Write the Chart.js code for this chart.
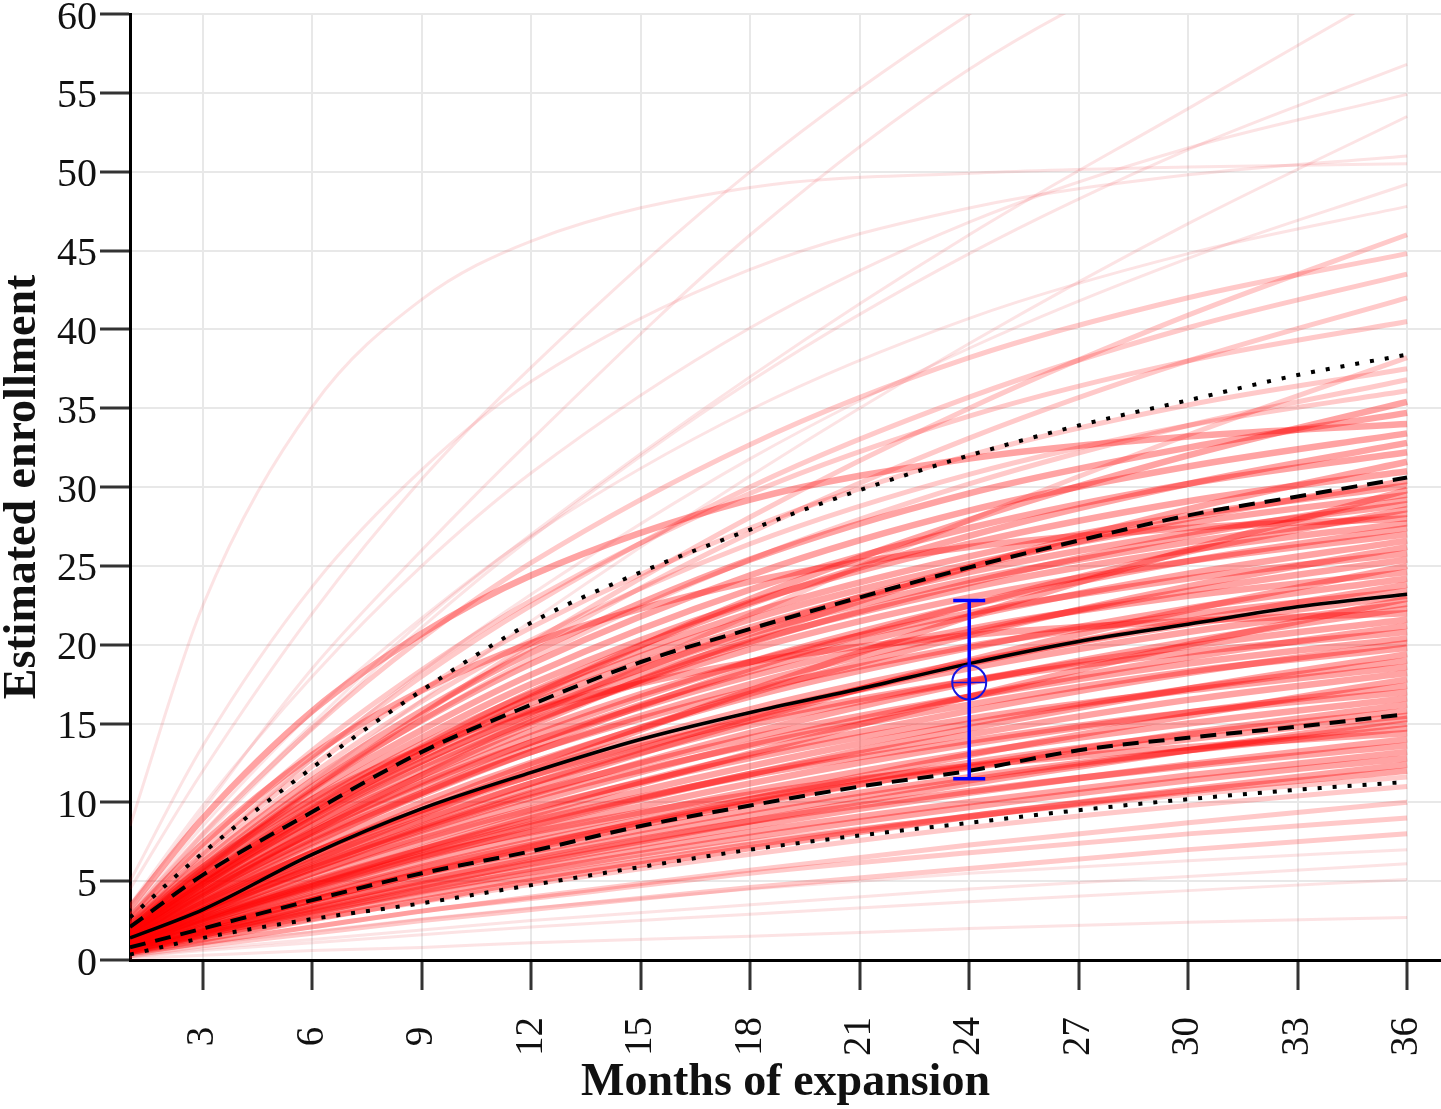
<!DOCTYPE html>
<html>
<head>
<meta charset="utf-8">
<script src="https://cdn.jsdelivr.net/npm/chart.js@4.4.1/dist/chart.umd.min.js"></script>
<style>
  html, body { margin: 0; padding: 0; background: #ffffff; }
  #wrap { width: 1441px; height: 1109px; position: relative; }
</style>
</head>
<body>
<div id="wrap"><canvas id="c"></canvas></div>
<script>
// ---- data ----
const simMonths = [1, 3, 6, 9, 12, 18, 24, 30, 36];

// dense simulated trajectories
const simCore = [
[0.3,0.9,1.7,2.5,3.2,4.6,5.8,7.0,8.0],
[0.4,1.1,2.1,3.1,3.9,5.5,6.8,8.0,9.0],
[0.4,1.1,2.1,3.1,4.0,5.7,7.3,8.7,10.0],
[0.5,1.3,2.6,3.7,4.8,6.7,8.4,9.8,11.0],
[0.5,1.6,3.0,4.3,5.5,7.5,9.1,10.5,11.6],
[0.5,1.5,2.8,4.1,5.2,7.3,9.1,10.7,12.0],
[0.5,1.3,2.6,3.8,5.0,7.1,9.1,10.8,12.4],
[0.5,1.6,3.0,4.4,5.6,7.8,9.7,11.4,12.8],
[0.6,1.6,3.1,4.5,5.8,8.1,10.0,11.7,13.2],
[0.6,1.8,3.5,5.0,6.4,8.8,10.7,12.3,13.6],
[0.6,1.7,3.3,4.8,6.1,8.5,10.6,12.4,14.0],
[0.9,2.6,4.7,6.6,8.1,10.5,12.3,13.5,14.4],
[0.7,2.0,3.8,5.5,6.9,9.5,11.6,13.3,14.7],
[0.6,1.8,3.5,5.1,6.6,9.2,11.4,13.3,15.0],
[0.6,1.7,3.2,4.7,6.2,8.8,11.2,13.3,15.3],
[0.7,2.1,4.0,5.8,7.3,10.0,12.2,14.0,15.5],
[0.7,2.1,4.1,5.9,7.5,10.2,12.5,14.3,15.8],
[0.7,2.0,3.8,5.5,7.1,9.9,12.3,14.4,16.2],
[0.8,2.3,4.3,6.2,7.8,10.7,13.1,15.0,16.6],
[0.9,2.7,5.0,7.0,8.8,11.7,13.9,15.7,17.0],
[0.8,2.4,4.5,6.5,8.2,11.2,13.7,15.7,17.4],
[0.7,1.9,3.8,5.5,7.2,10.2,13.0,15.5,17.8],
[0.9,2.5,4.7,6.8,8.6,11.8,14.3,16.5,18.2],
[1.0,2.9,5.5,7.7,9.6,12.8,15.3,17.1,18.6],
[0.9,2.6,4.9,7.0,9.0,12.3,15.0,17.2,19.0],
[0.8,2.4,4.6,6.6,8.5,11.8,14.7,17.2,19.4],
[1.1,3.1,5.8,8.2,10.3,13.6,16.2,18.3,19.8],
[0.9,2.7,5.2,7.5,9.5,13.0,15.8,18.2,20.1],
[1.1,3.2,6.0,8.4,10.6,14.1,16.7,18.8,20.4],
[1.3,3.7,6.8,9.5,11.7,15.2,17.7,19.5,20.8],
[1.0,2.9,5.5,7.9,10.0,13.7,16.7,19.2,21.2],
[1.2,3.4,6.4,8.9,11.2,14.9,17.7,19.9,21.6],
[2.2,5.9,10.2,13.4,15.8,18.9,20.6,21.5,22.0],
[1.0,3.0,5.8,8.3,10.5,14.4,17.6,20.2,22.3],
[1.2,3.5,6.6,9.3,11.7,15.6,18.5,20.8,22.6],
[0.8,2.5,4.8,7.1,9.2,13.1,16.7,20.0,22.9],
[1.3,3.6,6.8,9.5,12.0,15.9,18.9,21.3,23.1],
[1.5,4.2,7.7,10.6,13.2,17.1,19.9,21.9,23.4],
[1.1,3.2,6.2,8.8,11.2,15.4,18.8,21.5,23.8],
[1.3,3.8,7.1,10.0,12.5,16.7,19.8,22.3,24.2],
[1.5,4.4,8.1,11.2,13.8,18.0,21.0,23.1,24.6],
[1.0,3.0,5.9,8.5,10.9,15.2,19.0,22.2,25.0],
[1.4,4.0,7.5,10.5,13.2,17.5,20.8,23.4,25.4],
[1.6,4.6,8.5,11.7,14.5,18.9,22.0,24.2,25.8],
[1.2,3.6,6.8,9.7,12.4,16.9,20.6,23.7,26.2],
[1.5,4.2,7.8,11.0,13.8,18.3,21.8,24.5,26.6],
[1.7,4.8,8.9,12.3,15.2,19.7,23.0,25.3,27.0],
[1.5,4.3,8.1,11.3,14.2,18.9,22.5,25.3,27.4],
[1.7,4.9,9.1,12.6,15.6,20.2,23.6,26.0,27.7],
[2.7,7.4,13.0,17.1,20.1,24.0,26.2,27.4,28.0],
[1.8,5.0,9.3,12.9,15.9,20.7,24.1,26.5,28.3],
[1.3,3.9,7.4,10.6,13.5,18.5,22.5,25.9,28.6],
[1.8,5.1,9.5,13.1,16.3,21.1,24.6,27.1,28.9],
[1.6,4.6,8.6,12.1,15.1,20.1,23.9,26.9,29.2],
[1.9,5.2,9.7,13.4,16.6,21.6,25.1,27.7,29.5],
[1.1,3.2,6.3,9.2,12.0,17.1,21.8,26.0,29.8],
[1.9,5.4,9.9,13.7,16.9,22.0,25.6,28.2,30.1],
[1.7,4.8,8.9,12.6,15.7,20.9,24.9,28.0,30.4],
[2.0,5.5,10.2,14.1,17.5,22.7,26.4,29.1,31.0],
[1.5,4.3,8.2,11.7,14.9,20.4,24.9,28.6,31.6],
[2.0,5.7,10.6,14.6,18.1,23.5,27.4,30.2,32.2],
[1.8,5.1,9.6,13.5,17.0,22.6,26.9,30.2,32.8],
[2.1,5.9,11.0,15.2,18.8,24.4,28.5,31.3,33.4],
[3.3,9.0,15.8,20.7,24.4,29.2,31.8,33.2,34.0],
[2.2,6.2,11.4,15.8,19.5,25.4,29.6,32.5,34.7],
[1.7,4.8,9.2,13.1,16.7,22.9,27.9,32.0,35.4],
[2.3,6.4,11.8,16.4,20.3,26.4,30.8,33.9,36.1],
[2.0,5.8,10.8,15.2,19.1,25.4,30.2,33.9,36.8],
[2.4,6.7,12.3,17.1,21.1,27.4,32.0,35.2,37.5],
[1.4,4.1,8.1,11.8,15.4,21.9,27.9,33.3,38.2],
[2.6,7.2,13.3,18.4,22.8,29.6,34.5,38.0,40.5],
[2.4,6.8,12.8,18.0,22.5,30.0,35.7,40.1,43.5],
[2.0,5.7,10.9,15.6,19.8,27.1,33.1,38.0,42.0],
[2.8,8.0,14.7,20.4,25.2,32.7,38.2,42.0,44.8],
[1.9,5.6,10.8,15.6,20.1,28.1,35.0,40.9,46.0]
];

// sparse outlying trajectories
const simTail = [
[8.5,22.5,35.1,41.9,45.6,49.0,49.9,50.3,50.5],
[4.5,12.0,22.0,30.5,37.6,50.0,60.0,68.0,74.0],
[3.3,9.5,18.5,26.0,33.0,46.0,56.5,64.0,70.0],
[2.8,8.0,15.0,21.5,27.0,37.0,46.0,54.0,62.0],
[2.7,7.7,14.7,21.1,26.8,36.7,44.8,51.4,56.8],
[3.5,9.8,18.0,25.0,30.9,40.1,46.8,51.5,54.9],
[2.0,5.8,11.3,16.5,21.5,30.7,39.1,46.7,53.5],
[5.0,13.6,23.7,31.1,36.7,43.8,47.7,49.8,51.0],
[2.3,6.7,12.7,18.3,23.2,31.8,38.8,44.5,49.2],
[3.0,8.5,15.7,21.7,26.9,34.9,40.7,44.8,47.8],
[0.1,0.3,0.6,0.8,1.1,1.5,2.0,2.4,2.7],
[0.2,0.6,1.1,1.6,2.1,2.9,3.7,4.4,5.1],
[0.2,0.7,1.3,1.9,2.5,3.5,4.5,5.3,6.1],
[0.3,1.0,1.8,2.6,3.3,4.5,5.5,6.3,7.0]
];

// summary curves
const qMonths      = [1, 3, 6, 9, 12, 15, 18, 21, 24, 27, 30, 33, 36];
const medianCurve  = [1.4, 3.2, 6.7, 9.6, 11.9, 14.0, 15.7, 17.2, 18.8, 20.2, 21.3, 22.4, 23.2];
const upperDashed  = [2.1, 5.4, 9.4, 13.2, 16.2, 18.9, 21.0, 23.0, 24.9, 26.6, 28.2, 29.4, 30.6];
const lowerDashed  = [0.8, 2.0, 3.8, 5.5, 6.9, 8.5, 9.8, 11.0, 12.0, 13.3, 14.1, 14.8, 15.6];
const upperDotted  = [2.7, 6.8, 12.2, 17.1, 21.4, 24.6, 27.3, 29.8, 32.0, 33.9, 35.5, 37.1, 38.4];
const lowerDotted  = [0.35, 1.4, 2.6, 3.6, 4.75, 5.9, 7.0, 7.9, 8.7, 9.5, 10.2, 10.8, 11.3];

// observed point with interval
const obsMonth = 24;
const obsValue = 17.6;
const obsLow   = 11.5;
const obsHigh  = 22.8;

// axes
const xTicks = [3, 6, 9, 12, 15, 18, 21, 24, 27, 30, 33, 36];
const yTicks = [0, 5, 10, 15, 20, 25, 30, 35, 40, 45, 50, 55, 60];
const xMin = 1, xMax = 36.93, yMin = 0, yMax = 60;
const xTitle = 'Months of expansion';
const yTitle = 'Estimated enrollment';

// ---- build datasets ----
const pts = (xs, ys) => xs.map((x, i) => ({ x: x, y: ys[i] }));
const datasets = [];

datasets.push({
  data: pts([obsMonth, obsMonth], [obsLow, obsHigh]),
  borderColor: 'rgb(0,0,255)', borderWidth: 3.5, tension: 0,
  pointStyle: 'line', pointRadius: 16, pointBorderWidth: 3.5,
  pointBorderColor: 'rgb(0,0,255)', order: 0
});
datasets.push({
  data: pts([obsMonth], [obsValue]), showLine: false,
  pointStyle: 'circle', pointRadius: 17, pointBorderWidth: 2,
  pointBorderColor: 'rgb(20,20,225)', pointBackgroundColor: 'rgba(0,0,0,0)', order: 0
});
datasets.push({
  data: pts([obsMonth], [obsValue]), showLine: false,
  pointStyle: 'line', pointRadius: 17, pointBorderWidth: 1.5,
  pointBorderColor: 'rgb(20,20,225)', order: 0
});

const blackLine = (ys, dash, w) => ({
  data: pts(qMonths, ys), borderColor: '#000', borderWidth: w,
  borderDash: dash, pointRadius: 0, cubicInterpolationMode: 'monotone', order: 1
});
datasets.push(blackLine(medianCurve, [], 3.5));
datasets.push(blackLine(upperDashed, [16, 10], 4));
datasets.push(blackLine(lowerDashed, [16, 10], 4));
datasets.push(blackLine(upperDotted, [4, 11], 4));
datasets.push(blackLine(lowerDotted, [4, 11], 4));

simTail.forEach(row => datasets.push({
  data: pts(simMonths, row), borderColor: 'rgba(235,40,50,0.13)', borderWidth: 3,
  pointRadius: 0, cubicInterpolationMode: 'monotone', order: 2
}));
simCore.forEach(row => {
  const end = row[row.length - 1];
  const inner = end >= 12 && end <= 36;
  datasets.push({
    data: pts(simMonths, row),
    borderColor: inner ? 'rgba(255,0,0,0.36)' : 'rgba(255,10,10,0.22)',
    borderWidth: inner ? 6.5 : 5,
    pointRadius: 0, cubicInterpolationMode: 'monotone', order: 2
  });
});

const serif = 'Liberation Serif';

new Chart(document.getElementById('c'), {
  type: 'line',
  data: { datasets: datasets },
  options: {
    responsive: true, maintainAspectRatio: false, animation: false,
    devicePixelRatio: 1,
    layout: { padding: 0, autoPadding: false },
    plugins: { legend: { display: false }, tooltip: { enabled: false } },
    events: [],
    scales: {
      x: {
        type: 'linear', min: xMin, max: xMax,
        afterBuildTicks: s => { s.ticks = xTicks.map(v => ({ value: v })); },
        afterFit: s => { s.height = 149; s.paddingRight = 0; s.paddingLeft = 0; },
        grid: { color: '#e8e8e8', lineWidth: 2, tickColor: '#333', tickWidth: 3, tickLength: 30 },
        border: { color: '#000', width: 3 },
        ticks: {
          autoSkip: false, minRotation: 90, maxRotation: 90, padding: 27,
          color: '#111', font: { family: serif, size: 39, lineHeight: 0.5 },
          callback: v => { const t = String(v); return t.length === 1 ? t + ' ' : t; }
        },
        title: {
          display: true, text: xTitle, color: '#111',
          font: { family: serif, size: 46, weight: 'bold', lineHeight: 1 },
          padding: { top: 0, bottom: 3 }
        }
      },
      y: {
        type: 'linear', min: yMin, max: yMax,
        afterBuildTicks: s => { s.ticks = yTicks.map(v => ({ value: v })); },
        afterFit: s => { s.width = 130; s.paddingTop = 14; },
        grid: { color: '#e8e8e8', lineWidth: 2, tickColor: '#333', tickWidth: 3, tickLength: 30 },
        border: { color: '#000', width: 3 },
        ticks: {
          padding: 3, color: '#111', labelOffset: 4,
          font: { family: serif, size: 40, lineHeight: 0.55 }
        },
        title: {
          display: true, text: yTitle, color: '#111',
          font: { family: serif, size: 46, weight: 'bold', lineHeight: 1 },
          padding: { top: 0, bottom: 0 }
        }
      }
    }
  }
});
</script>
</body>
</html>
